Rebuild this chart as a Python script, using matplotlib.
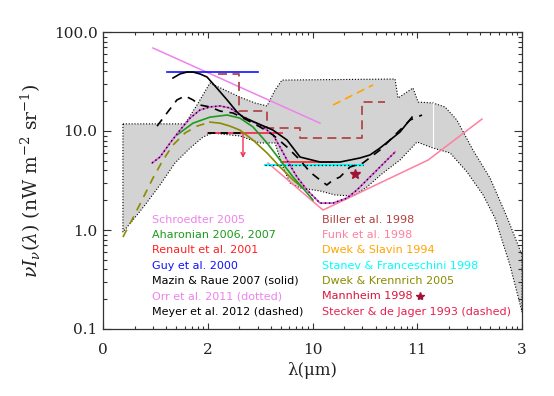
import matplotlib
matplotlib.use('Agg')
import matplotlib.pyplot as plt
from matplotlib.ticker import FixedLocator, FixedFormatter, LogLocator, NullFormatter

# ---------------- data (lambda in micron, nu I_nu in nW m^-2 sr^-1) ----------------
band_upper_lam = [0.155, 0.607, 0.789, 1.05, 1.46, 2.03, 2.82, 3.68, 4.39, 5.12, 61.4, 65.5,
                  91.0, 102, 141, 184, 239, 340, 495, 719, 1000]
band_upper_val = [11.8, 11.8, 18.3, 30.5, 25.9, 22.0, 19.2, 17.9, 25.9, 32.7, 33.5, 21.5,
                  27.2, 19.6, 19.2, 17.5, 12.9, 6.43, 3.35, 1.35, 0.558]
band_lower_lam = [1000, 767, 552, 425, 299, 206, 141, 99.5, 68.4, 47.1, 33.1, 24.4, 16.4,
                  11.8, 7.60, 6.10, 5.12, 4.39, 3.15, 2.03, 1.10, 0.902, 0.678, 0.486,
                  0.350, 0.252, 0.193, 0.155]
band_lower_val = [0.149, 0.443, 1.32, 2.26, 3.85, 6.00, 6.73, 7.75, 5.09, 3.77, 2.72, 2.20,
                  2.26, 2.48, 2.66, 2.99, 4.54, 7.57, 7.57, 8.90, 9.55, 8.69, 6.73, 4.75,
                  2.85, 1.79, 1.26, 0.955]
band_gap_lam = [141, 141]
band_gap_val = [19.2, 6.73]

schroedter_lam = [0.300, 11.8]
schroedter_val = [68.9, 12.0]

guy_lam = [0.408, 3.02]
guy_val = [39.4, 39.4]

mazin_lam = [0.466, 0.543, 0.634, 0.723, 0.843, 0.984, 1.22, 1.53, 1.90, 2.17, 2.95, 4.20,
             5.71, 7.60, 11.8, 18.3, 28.4, 35.4, 44.1, 55.0, 68.4, 89.1]
mazin_val = [34.3, 37.7, 39.4, 39.4, 37.7, 35.1, 27.2, 20.6, 15.6, 13.8, 12.0, 10.2,
             8.11, 5.46, 4.86, 4.86, 5.34, 5.73, 6.73, 8.11, 9.77, 13.8]

meyer_lam = [0.328, 0.408, 0.508, 0.607, 0.723, 0.843, 1.05, 1.31, 1.74, 2.37, 3.15, 4.20,
             5.71, 7.60, 9.46, 11.8, 13.7, 15.7, 18.3, 22.8, 30.3, 44.1, 64.1, 85.3, 111]
meyer_val = [11.2, 15.2, 20.6, 22.6, 20.6, 18.3, 17.5, 15.9, 15.2, 12.9, 11.0, 9.12,
             6.89, 5.09, 3.85, 3.20, 2.85, 3.20, 3.43, 4.33, 4.75, 6.43, 9.55, 12.9, 14.5]

orr_lam = [0.294, 0.350, 0.437, 0.543, 0.678, 0.843, 1.05, 1.31, 1.63, 2.03, 2.53, 3.37,
           4.20, 4.90, 5.71, 7.11, 8.85, 11.8, 15.7, 21.3, 26.6, 33.1, 41.3, 51.4, 61.4]
orr_val = [4.75, 5.46, 7.57, 10.2, 13.5, 16.3, 17.5, 17.9, 17.1, 14.5, 12.9, 11.0,
           9.12, 6.89, 5.09, 3.43, 2.54, 1.87, 1.87, 2.10, 2.54, 3.20, 4.04, 5.09, 6.14]

aharonian_lam = [0.508, 0.723, 1.05, 1.53, 2.03, 2.70, 3.68, 4.90, 6.52, 8.85, 10.1]
aharonian_val = [9.12, 12.0, 13.8, 14.5, 13.5, 11.0, 7.57, 5.09, 3.43, 2.37, 2.01]

dk_dashed_lam = [0.155, 0.193, 0.241, 0.300, 0.374, 0.466, 0.607, 0.789, 1.05]
dk_dashed_val = [0.849, 1.32, 2.10, 3.35, 5.09, 7.22, 9.55, 11.2, 12.3]
dk_solid_lam = [1.05, 1.31, 1.63, 2.03, 2.70, 3.68, 4.90, 6.52, 8.11]
dk_solid_val = [12.3, 12.0, 11.2, 10.2, 8.11, 6.00, 4.33, 3.20, 2.66]

limit_bar_lam = [1.00, 5.12]
limit_bar_val = [9.55, 9.55]
limit_bar_dash_lam = [1.00, 2.27]
limit_arrow_lam = 2.17
limit_arrow_from = 9.55
limit_arrow_to = 5.34

renault_lam = [5.12, 15.3]
renault_val = [4.86, 4.86]

stanev_lam = [3.52, 30.3]
stanev_val = [4.54, 4.54]

biller_lam = [1.25, 1.99, 1.99, 3.68, 3.68, 7.60, 7.60, 29.7, 29.7, 49.2]
biller_val = [37.7, 37.7, 15.9, 15.9, 10.7, 10.7, 8.49, 8.49, 19.6, 19.6]

dwek_slavin_lam = [15.7, 37.8]
dwek_slavin_val = [18.3, 29.2]

funk_lam = [3.76, 12.6, 127, 415]
funk_val = [4.75, 1.59, 5.09, 13.2]

mannheim_lam = [25.5]
mannheim_val = [3.68]

xtick_vals = [0.1, 1, 10, 100, 1000]
xtick_labels = ['0', '2', '10', '11', '3']
ytick_vals = [0.1, 1, 10, 100]
ytick_labels = ['0.1', '1.0', '10.0', '100.0']

legend_left = [('Schroedter 2005', '#ee82ee'),
               ('Aharonian 2006, 2007', '#1e9a1e'),
               ('Renault et al. 2001', '#ff2020'),
               ('Guy et al. 2000', '#1010ff'),
               ('Mazin & Raue 2007 (solid)', '#000000'),
               ('Orr et al. 2011 (dotted)', '#ee82ee'),
               ('Meyer et al. 2012 (dashed)', '#000000')]
legend_right = [('Biller et al. 1998', '#b04040'),
                ('Funk et al. 1998', '#ff7f9f'),
                ('Dwek & Slavin 1994', '#ffa500'),
                ('Stanev & Franceschini 1998', '#00ffff'),
                ('Dwek & Krennrich 2005', '#8b8b00'),
                ('Mannheim 1998', '#dc143c'),
                ('Stecker & de Jager 1993 (dashed)', '#e8204f')]

# ---------------- figure ----------------
plt.rcParams['mathtext.fontset'] = 'dejavuserif'
fig = plt.figure(figsize=(5.54, 3.96), dpi=100)
ax = fig.add_axes([103 / 554, 67 / 396, 419 / 554, 297 / 396])
ax.set_xscale('log')
ax.set_yscale('log')
ax.set_xlim(0.1, 1000)
ax.set_ylim(0.1, 100)

# shaded band
band_lam = band_upper_lam + band_lower_lam
band_val = band_upper_val + band_lower_val
ax.fill(band_lam, band_val, facecolor='#d3d3d3', edgecolor='none', zorder=1)
ax.plot(band_lam + band_lam[:1], band_val + band_val[:1], color='k',
        linestyle=(0, (1, 1.6)), lw=0.8, zorder=2)
ax.plot(band_gap_lam, band_gap_val, color='white', lw=0.8, zorder=2)

# lines
LW = 1.1
ax.plot(schroedter_lam, schroedter_val, color='#ee82ee', lw=LW, zorder=3)
ax.plot(guy_lam, guy_val, color='#1010ff', lw=1.2, zorder=3)
ax.plot(biller_lam, biller_val, color='#b04848', lw=1.3, dashes=(5, 3), zorder=3)
ax.plot(dwek_slavin_lam, dwek_slavin_val, color='#ffa500', lw=1.2, dashes=(5, 3), zorder=3)
ax.plot(funk_lam, funk_val, color='#ff7f9f', lw=LW, zorder=3)
ax.plot(stanev_lam, stanev_val, color='#00ffff', lw=1.5, zorder=3)
ax.plot(stanev_lam, stanev_val, color='k', lw=0.9, linestyle=(0, (1, 2)), zorder=3)
ax.plot(renault_lam, renault_val, color='#ff2020', lw=1.2, zorder=4)
ax.plot(limit_bar_lam, limit_bar_val, color='#f03050', lw=1.3, zorder=4)
ax.plot(limit_bar_dash_lam, limit_bar_val, color='k', lw=1.3, dashes=(4, 3), zorder=4)
ax.annotate('', xy=(limit_arrow_lam, limit_arrow_to), xytext=(limit_arrow_lam, limit_arrow_from),
            arrowprops=dict(arrowstyle='->', color='#f03050', lw=1.0,
                            shrinkA=0, shrinkB=0, mutation_scale=7), zorder=4)
ax.plot(dk_dashed_lam, dk_dashed_val, color='#8b8b00', lw=1.2, dashes=(5, 4), zorder=4)
ax.plot(dk_solid_lam, dk_solid_val, color='#8b8b00', lw=1.2, zorder=4)
ax.plot(aharonian_lam, aharonian_val, color='#1e9a1e', lw=1.2, zorder=5)
ax.plot(orr_lam, orr_val, color='#e060e0', lw=1.3, zorder=5)
ax.plot(orr_lam, orr_val, color='k', lw=1.0, linestyle=(0, (1, 2)), zorder=5)
ax.plot(meyer_lam, meyer_val, color='k', lw=1.2, dashes=(5, 4), zorder=6)
ax.plot(mazin_lam, mazin_val, color='k', lw=1.2, zorder=6)
ax.plot(mannheim_lam, mannheim_val, linestyle='none', marker='*', color='#a01535',
        markersize=7, zorder=6)

# legend texts
row_y = [0.367, 0.316, 0.265, 0.213, 0.162, 0.110, 0.058]
for (txt, col), yy in zip(legend_left, row_y):
    ax.text(0.117, yy, txt, color=col, fontsize=8, family='DejaVu Sans',
            transform=ax.transAxes, va='center', ha='left', zorder=7)
for (txt, col), yy in zip(legend_right, row_y):
    ax.text(0.523, yy, txt, color=col, fontsize=8, family='DejaVu Sans',
            transform=ax.transAxes, va='center', ha='left', zorder=7)
ax.plot([0.757], [row_y[5]], transform=ax.transAxes, marker='*', color='#a01535',
        markersize=6, linestyle='none', clip_on=False, zorder=7)

# axes styling
ax.xaxis.set_major_locator(FixedLocator(xtick_vals))
ax.xaxis.set_major_formatter(FixedFormatter(xtick_labels))
ax.xaxis.set_minor_locator(LogLocator(base=10, subs=range(2, 10), numticks=20))
ax.xaxis.set_minor_formatter(NullFormatter())
ax.yaxis.set_major_locator(FixedLocator(ytick_vals))
ax.yaxis.set_major_formatter(FixedFormatter(ytick_labels))
ax.yaxis.set_minor_locator(LogLocator(base=10, subs=range(2, 10), numticks=20))
ax.yaxis.set_minor_formatter(NullFormatter())

ax.tick_params(which='both', direction='in', top=True, right=True, colors='#333333',
               width=0.8)
ax.tick_params(axis='x', which='major', length=4.5, pad=10, labelsize=11)
ax.tick_params(axis='x', which='minor', length=2.3)
ax.tick_params(axis='y', which='major', length=6.0, pad=4, labelsize=11)
ax.tick_params(axis='y', which='minor', length=3.0)
for lab in ax.get_xticklabels() + ax.get_yticklabels():
    lab.set_family('DejaVu Serif')
    lab.set_color('#222222')
for sp in ax.spines.values():
    sp.set_linewidth(0.9)
    sp.set_color('#333333')

ax.set_xlabel('λ(μm)', family='DejaVu Serif', fontsize=12, labelpad=4, color='#222222')
ax.set_ylabel(r'$\nu I_\nu(\lambda)$ (nW m$^{-2}$ sr$^{-1}$)', family='DejaVu Serif',
              fontsize=13.5, labelpad=8, color='#222222')

fig.savefig('out.png', dpi=100)
